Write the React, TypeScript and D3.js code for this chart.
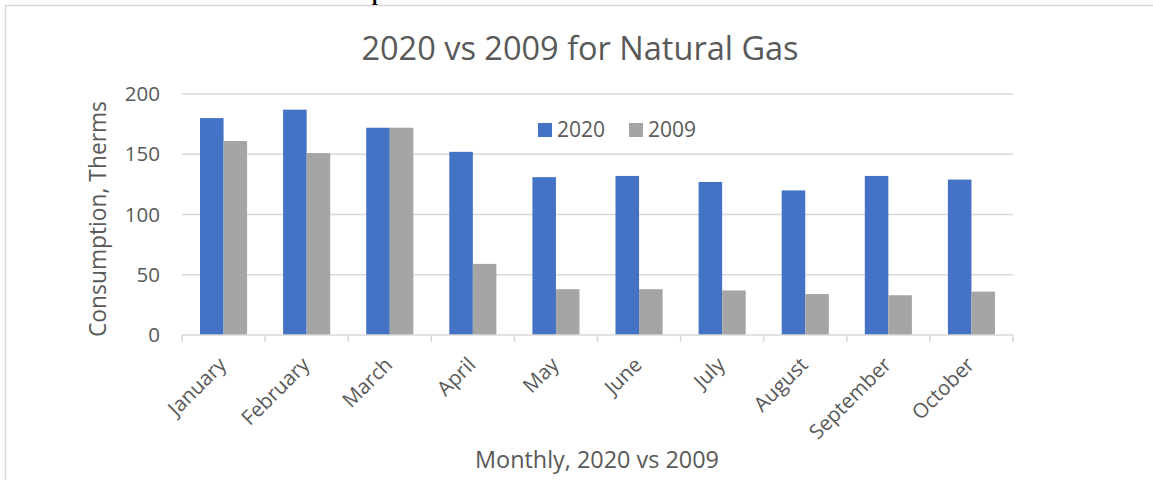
import * as d3 from "d3";

const months = [
  "January",
  "February",
  "March",
  "April",
  "May",
  "June",
  "July",
  "August",
  "September",
  "October",
];
const series = ["2020", "2009"];
const values2020 = [180, 187, 172, 152, 131, 132, 127, 120, 132, 129];
const values2009 = [161, 151, 172, 59, 38, 38, 37, 34, 33, 36];
const yTicks = [0, 50, 100, 150, 200];

const COLORS: Record<string, string> = { "2020": "#4472C4", "2009": "#A5A5A5" };
const TEXT = "#595959";
const GRID = "#D9D9D9";
const FONT = "'Open Sans', sans-serif";

export default function App() {
  const width = 1153;
  const height = 480;
  const margin = { top: 94, right: 140, bottom: 145, left: 182 };
  const innerW = width - margin.left - margin.right;
  const innerH = height - margin.top - margin.bottom;

  const x = d3.scaleBand<string>().domain(months).range([0, innerW]);
  const xs = d3
    .scaleBand<string>()
    .domain(series)
    .range([18, x.bandwidth() - 18]);
  const y = d3.scaleLinear().domain([0, 200]).range([innerH, 0]);

  const rows = months.map((m, i) => ({
    month: m,
    vals: [
      { key: "2020", v: values2020[i] },
      { key: "2009", v: values2009[i] },
    ],
  }));

  // category boundaries carry the tick marks
  const boundaries = d3.range(months.length + 1).map((i) => i * x.step());

  return (
    <svg
      width={width}
      height={height}
      style={{ position: "absolute", left: 0, top: 0, background: "#fff" }}
      fontFamily={FONT}
    >
      <rect
        x={5.5}
        y={5.5}
        width={width + 10}
        height={height + 10}
        fill="#fff"
        stroke={GRID}
        strokeWidth={1.5}
      />
      <text
        x={372}
        y={0}
        fontFamily="'Liberation Serif', serif"
        fontSize={20}
        fontWeight="bold"
        fill="#000"
      >
        p
      </text>
      <text x={580} y={60} textAnchor="middle" fontSize={32.5} fill={TEXT}>
        2020 vs 2009 for Natural Gas
      </text>

      <g transform={`translate(${margin.left},${margin.top})`}>
        {yTicks.map((t) => (
          <g key={t}>
            {t > 0 && (
              <line
                x1={0}
                x2={innerW}
                y1={y(t)}
                y2={y(t)}
                stroke={GRID}
                strokeWidth={1.5}
              />
            )}
            <text
              x={-22}
              y={y(t)}
              dy="0.35em"
              textAnchor="end"
              fontSize={20.5}
              fill={TEXT}
            >
              {t}
            </text>
          </g>
        ))}

        {rows.map((r) => (
          <g key={r.month} transform={`translate(${x(r.month)},0)`}>
            {r.vals.map((d) => (
              <rect
                key={d.key}
                x={xs(d.key)}
                y={y(d.v)}
                width={xs.bandwidth()}
                height={y(0) - y(d.v)}
                fill={COLORS[d.key]}
              />
            ))}
          </g>
        ))}

        <line
          x1={0}
          x2={innerW}
          y1={y(0)}
          y2={y(0)}
          stroke={GRID}
          strokeWidth={1.5}
        />
        {boundaries.map((b, i) => (
          <line
            key={i}
            x1={b}
            x2={b}
            y1={y(0)}
            y2={y(0) + 7}
            stroke={GRID}
            strokeWidth={1.5}
          />
        ))}

        {months.map((m) => (
          <text
            key={m}
            transform={`translate(${(x(m) ?? 0) + x.bandwidth() / 2 + 4},${
              innerH + 31
            }) rotate(-45)`}
            textAnchor="end"
            fontSize={20.5}
            fill={TEXT}
          >
            {m}
          </text>
        ))}
      </g>

      <g transform="translate(538,123)">
        {series.map((s, i) => (
          <g key={s} transform={`translate(${i * 91},0)`}>
            <rect width={14} height={14} fill={COLORS[s]} />
            <text x={19} y={7} dy="0.35em" fontSize={21} fill={TEXT}>
              {s}
            </text>
          </g>
        ))}
      </g>

      <text
        transform="translate(106,219) rotate(-90)"
        textAnchor="middle"
        fontSize={22.8}
        fill={TEXT}
      >
        Consumption, Therms
      </text>
      <text x={597} y={468} textAnchor="middle" fontSize={23.4} fill={TEXT}>
        Monthly, 2020 vs 2009
      </text>
    </svg>
  );
}
